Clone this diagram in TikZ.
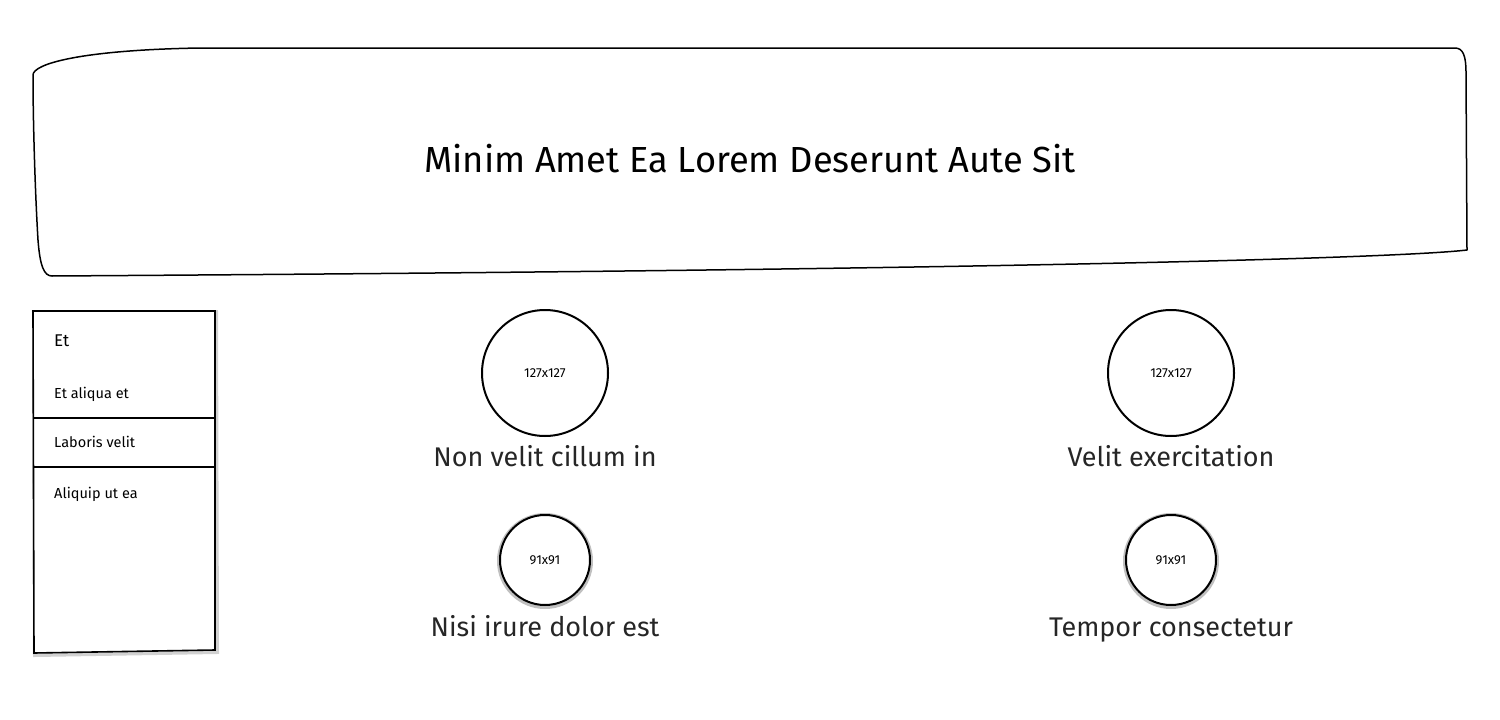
\documentclass[tikz,border=0pt]{standalone}
\usepackage{fontspec}
\setmainfont{Fira Sans}
\begin{document}
\begin{tikzpicture}[x=1pt,y=-1pt,
  ink/.style={draw=black,line width=1.6pt},
  ring/.style={draw=black,line width=2pt,fill=white},
  soft/.style={draw=black!55,line width=4pt,opacity=0.45},
  bigtxt/.style={font=\fontsize{36.3}{42}\selectfont,text=black,inner sep=0pt,anchor=base},
  lbl/.style={font=\fontsize{27}{32}\selectfont,text=black!85,inner sep=0pt,anchor=base},
  item/.style={font=\fontsize{14.5}{17}\selectfont,text=black,inner sep=0pt,anchor=base west},
  dim/.style={font=\fontsize{13}{15}\selectfont,text=black,inner sep=0pt}]
\useasboundingbox (0,0) rectangle (1500,720);
% title box
\draw[line width=1.5pt,line join=round]
  (33,75) .. controls (33,64) and (80,50) .. (200,48) -- (1455,48)
  .. controls (1463,48) and (1466,56) .. (1466,72) -- (1467,250)
  .. controls (1400,258) and (1000,270) .. (52,276)
  .. controls (44,276) and (40,266) .. (38,240)
  .. controls (35,190) and (33,120) .. cycle;
\node[bigtxt] (title) at (750,172) {Minim Amet Ea Lorem Deserunt Aute Sit};
% left panel with shadow
\draw[draw=black!30,line width=4pt,opacity=0.6] (34,312) -- (216,312) -- (217,652) -- (35,655) -- cycle;
\draw[ink,fill=white] (33,311) -- (215,311) -- (215,650) -- (34,653) -- cycle;
\draw[ink] (33,418) -- (215,418);
\draw[ink] (33,467) -- (215,467);
\node[item,font=\fontsize{17}{19}\selectfont] (et) at (54,346) {Et};
\node[item] (i1) at (54,398) {Et aliqua et};
\node[item] (i2) at (54,447) {Laboris velit};
\node[item] (i3) at (54,498) {Aliquip ut ea};
% large circles
\draw[ring] (545,373) circle[radius=63];
\node[dim] (c1) at (545,373) {127x127};
\draw[ring] (1171,373) circle[radius=63];
\node[dim] (c2) at (1171,373) {127x127};
% small circles with soft shadow
\draw[soft] (545,561) circle[radius=46];
\draw[ring] (545,560) circle[radius=45];
\node[dim] (c3) at (545,560) {91x91};
\draw[soft] (1171,561) circle[radius=46];
\draw[ring] (1171,560) circle[radius=45];
\node[dim] (c4) at (1171,560) {91x91};
% labels
\node[lbl] (l1) at (545,466) {Non velit cillum in};
\node[lbl] (l2) at (1171,466) {Velit exercitation};
\node[lbl] (l3) at (545,636) {Nisi irure dolor est};
\node[lbl] (l4) at (1171,636) {Tempor consectetur};
\end{tikzpicture}
\end{document}
